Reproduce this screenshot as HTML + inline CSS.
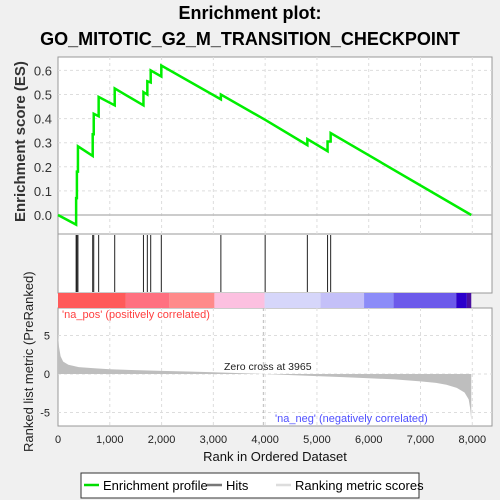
<!DOCTYPE html>
<html><head><meta charset="utf-8"><style>
body{margin:0;background:#f0f0f0;}
svg{display:block;font-family:"Liberation Sans",sans-serif;}
</style></head><body>
<svg id="c" width="500" height="500">
<rect x="0" y="0" width="500" height="500" fill="#f0f0f0"/>
<text x="250" y="19" text-anchor="middle" font-size="18" font-weight="bold">Enrichment plot:</text>
<text x="250" y="45" text-anchor="middle" font-size="18" font-weight="bold">GO_MITOTIC_G2_M_TRANSITION_CHECKPOINT</text>
<g id="g"></g>
</svg>
<script>
const hitRanks=[350,365,385,670,690,785,1095,1650,1725,1790,1995,3145,4000,4815,5205,5265];
const esBefore=[-0.04,0.07,0.18,0.245,0.335,0.41,0.455,0.455,0.50,0.55,0.575,0.48,0.395,0.29,0.265,0.305];
const esAfter=[0.07,0.18,0.285,0.335,0.42,0.49,0.525,0.51,0.555,0.60,0.62,0.50,0.395,0.315,0.305,0.34];
const nGenes=7980;
const metricRanks=[0,20,50,100,200,400,700,1000,1500,2000,2500,3000,3500,3965,4500,5000,5500,6000,6500,7000,7300,7500,7700,7850,7930,7960,7980];
const metricVals=[5.2,3.5,2.3,1.6,1.2,0.9,0.75,0.62,0.5,0.4,0.32,0.22,0.12,0,-0.15,-0.28,-0.4,-0.55,-0.7,-0.95,-1.15,-1.4,-1.8,-2.4,-3.3,-4.5,-6];
const xTicks=[0,1000,2000,3000,4000,5000,6000,7000,8000];
const xTickLabels=["0","1,000","2,000","3,000","4,000","5,000","6,000","7,000","8,000"];
const esTicks=[0,0.1,0.2,0.3,0.4,0.5,0.6];
const esTickLabels=["0.0","0.1","0.2","0.3","0.4","0.5","0.6"];
const mTicks=[-5,0,5];
const colorStops=[0,1310,2150,3020,3990,5070,5910,6480,7690,7895,7980];
const colorFills=["#ff5a5a","#ff7080","#ff8a8a","#fcc0e0","#d6d6fa","#c4c0f8","#8c8cf8","#6c5aea","#2c00cc","#4a10a0"];

const NS="http://www.w3.org/2000/svg";
const g=document.getElementById('g');
function el(t,a,p){const e=document.createElementNS(NS,t);for(const k in a)e.setAttribute(k,a[k]);(p||g).appendChild(e);return e;}
const L=58,R=492,X0=58,X8=472.3;
const xs=r=>X0+r*(X8-X0)/8000;
const ys=v=>215-v*241;
const ym=v=>374-v*7.7;
// panels
const p1=el('rect',{x:L,y:57,width:R-L,height:177,fill:'#fff',stroke:'#999'});

const p2=el('rect',{x:L,y:234,width:R-L,height:59,fill:'#fff',stroke:'#999'});

const p3=el('rect',{x:L,y:308,width:R-L,height:118,fill:'#fff',stroke:'#999'});

// grids
xTicks.forEach(t=>{
  if(t>0){el('line',{x1:xs(t),x2:xs(t),y1:57,y2:234,stroke:'#ddd','stroke-dasharray':'3,3'});
  el('line',{x1:xs(t),x2:xs(t),y1:308,y2:426,stroke:'#ddd','stroke-dasharray':'3,3'});}
});
esTicks.forEach((t,i)=>{
  el('line',{x1:L,x2:R,y1:ys(t),y2:ys(t),stroke:t===0?'#bbb':'#ddd','stroke-dasharray':t===0?'':'3,3','stroke-width':t===0?1.5:1});
  const tx=el('text',{x:52,y:ys(t)+5,'text-anchor':'end','font-size':13,fill:'#333'});tx.textContent=esTickLabels[i];
  
});
mTicks.forEach(t=>{
  el('line',{x1:L,x2:R,y1:ym(t),y2:ym(t),stroke:'#ddd','stroke-dasharray':'3,3'});
  const tx=el('text',{x:50,y:ym(t)+4,'text-anchor':'end','font-size':11,fill:'#222'});tx.textContent=String(t);
  
});
// ES line
let pts=[[0,0]];
hitRanks.forEach((r,i)=>{pts.push([r,esBefore[i]]);pts.push([r,esAfter[i]]);});
pts.push([nGenes,0]);
const es=el('polyline',{points:pts.map(p=>xs(p[0])+','+ys(p[1])).join(' '),fill:'none',stroke:'#00ee00','stroke-width':2.5});

// hits
hitRanks.forEach(r=>{
  const h=el('line',{x1:xs(r),x2:xs(r),y1:235,y2:292,stroke:'#222','stroke-width':1});
  
});
// color bar
colorFills.forEach((c,i)=>{
  const b=el('rect',{x:xs(colorStops[i]),y:293,width:xs(colorStops[i+1])-xs(colorStops[i]),height:15,fill:c});
  
});
// metric area
let mp=metricRanks.map((r,i)=>xs(r)+','+ym(metricVals[i]));
mp.push(xs(nGenes)+','+ym(0));mp.unshift(xs(0)+','+ym(0));
const ar=el('polygon',{points:mp.join(' '),fill:'#bebebe'});

el('line',{x1:xs(3965),x2:xs(3965),y1:308,y2:426,stroke:'#bbb','stroke-dasharray':'3,3'});
function txt(x,y,s,a,name){const t=el('text',Object.assign({x:x,y:y},a));t.textContent=s;return t;}
txt(62,318,"'na_pos' (positively correlated)",{'font-size':11,fill:'#ff4040'},'na-pos-label');
txt(275,422,"'na_neg' (negatively correlated)",{'font-size':11,fill:'#5050ff'},'na-neg-label');
txt(224,370,"Zero cross at 3965",{'font-size':10.5,fill:'#222'},'zero-cross-label');
xTicks.forEach((t,i)=>{
  const tx=txt(xs(t),443,xTickLabels[i],{'text-anchor':'middle','font-size':11,fill:'#222'},'x-tick-label');
});
txt(275,461,"Rank in Ordered Dataset",{'text-anchor':'middle','font-size':13,fill:'#111'},'x-axis-title');
txt(0,0,"Enrichment score (ES)",{'font-size':15,'font-weight':'bold',fill:'#333',transform:'translate(25,222) rotate(-90)'},'es-axis-title');
txt(0,0,"Ranked list metric (PreRanked)",{'font-size':13,fill:'#222',transform:'translate(33,452) rotate(-90)'},'metric-axis-title');
// legend
const lg=el('rect',{x:81,y:473,width:338,height:25,fill:'#fff',stroke:'#333'});

el('line',{x1:84,x2:99,y1:485,y2:485,stroke:'#00dd00','stroke-width':2.5});
txt(103,490,"Enrichment profile",{'font-size':13},'legend-entry-enrichment');
el('line',{x1:207,x2:222,y1:485,y2:485,stroke:'#777','stroke-width':2.5});
txt(226,490,"Hits",{'font-size':13},'legend-entry-hits');
el('line',{x1:276,x2:291,y1:485,y2:485,stroke:'#ddd','stroke-width':2.5});
txt(295,490,"Ranking metric scores",{'font-size':13},'legend-entry-metric');
</script>
</body></html>
